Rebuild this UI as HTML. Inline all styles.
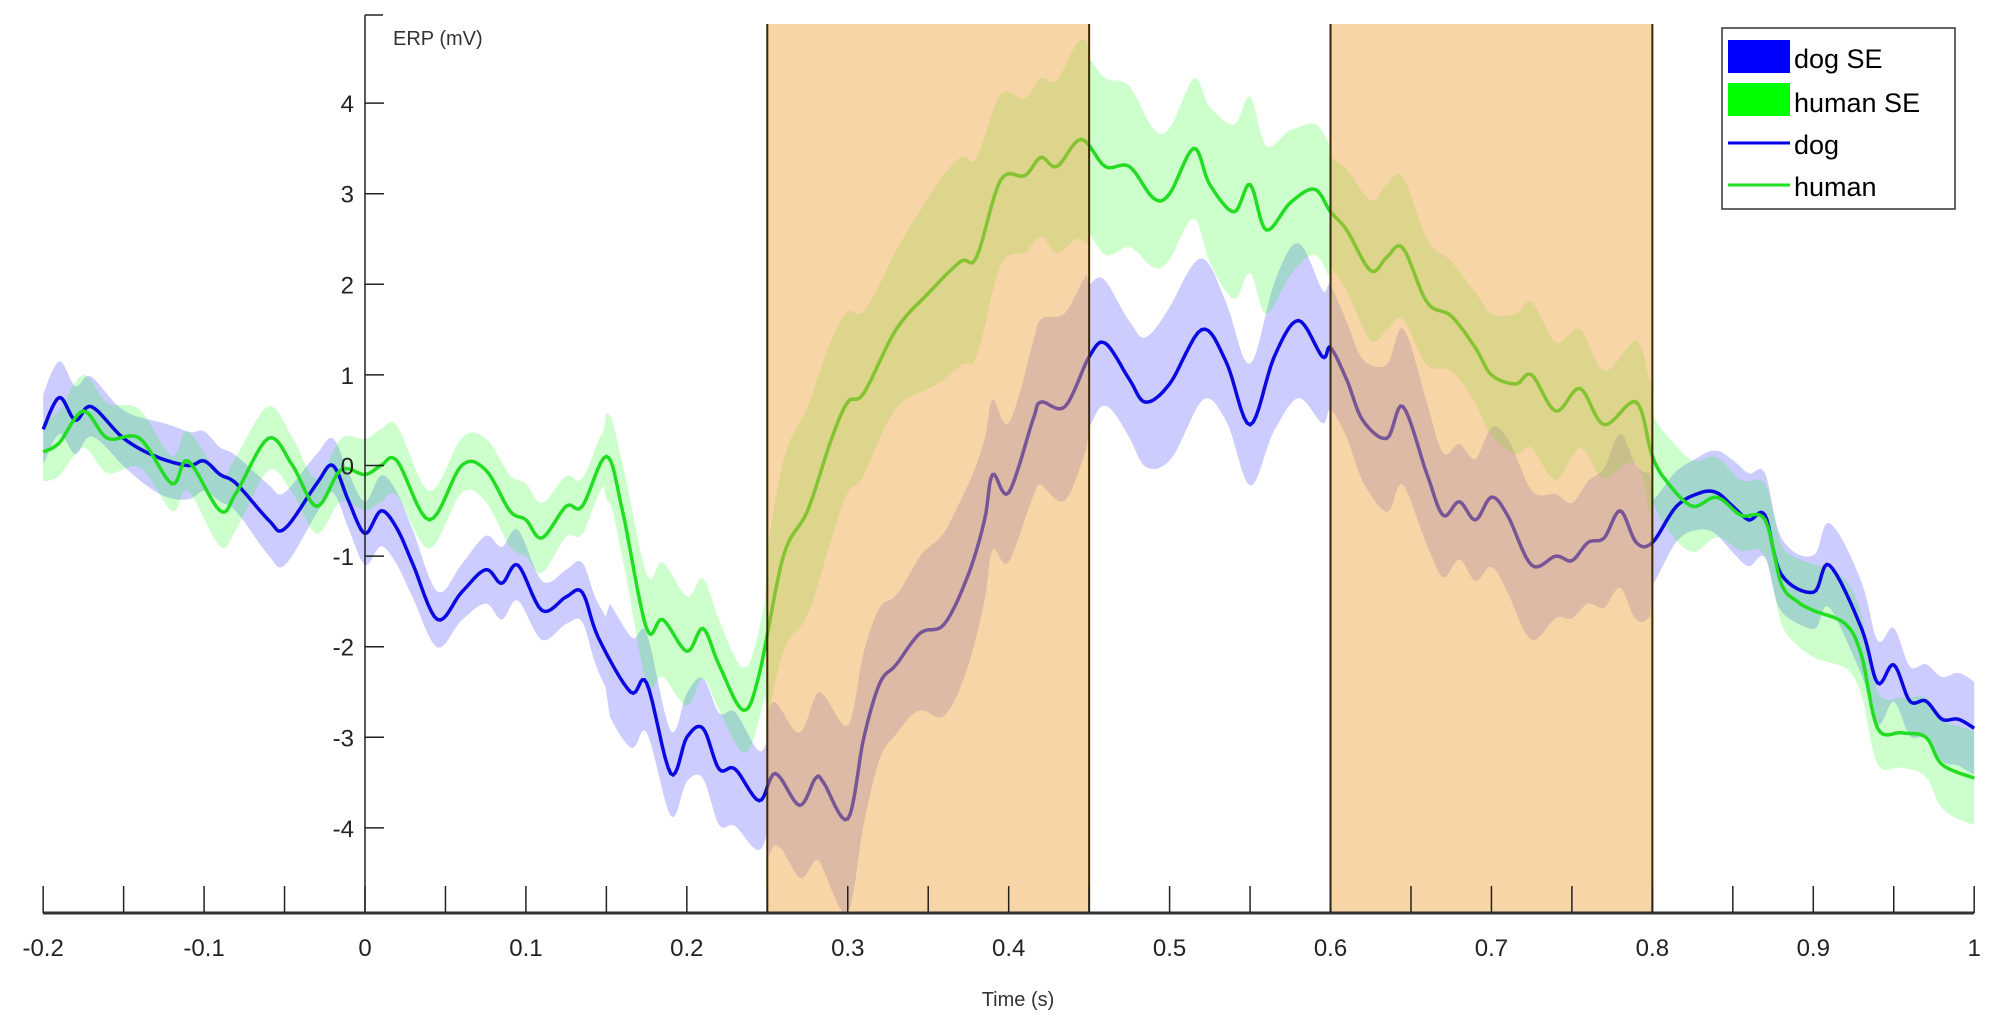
<!DOCTYPE html>
<html><head><meta charset="utf-8"><style>
html,body{margin:0;padding:0;background:#fff;}
svg{display:block;font-family:"Liberation Sans",Arial,sans-serif;}
</style></head><body>
<svg id="s" width="1994" height="1022" viewBox="0 0 1994 1022" xmlns="http://www.w3.org/2000/svg">
<g id="bands"></g>
<g id="lines"></g>
<g id="shade"></g>
<g id="axes"></g>
<g id="legend">
<rect x="1722" y="28" width="233" height="181" fill="#fff" stroke="#333" stroke-width="1.5"/>
<rect x="1728" y="40" width="62" height="33" fill="#0000ff"/>
<rect x="1728" y="83" width="62" height="33" fill="#00ff00"/>
<line x1="1728" y1="143" x2="1790" y2="143" stroke="#0000e6" stroke-width="3"/>
<line x1="1728" y1="185" x2="1790" y2="185" stroke="#22e022" stroke-width="3"/>
<text x="1794" y="68" font-size="27">dog SE</text>
<text x="1794" y="112" font-size="27">human SE</text>
<text x="1794" y="154" font-size="27">dog</text>
<text x="1794" y="196" font-size="27">human</text>
</g>
</svg>
<script>
const NS="http://www.w3.org/2000/svg";
const X=t=>365+t*1609.2, Y=v=>465.5-v*90.6;
const dog=[[-0.2,0.4],[-0.19,0.75],[-0.18,0.5],[-0.17,0.65],[-0.15,0.3],[-0.13,0.1],[-0.11,0.0],[-0.10,0.05],[-0.09,-0.1],[-0.08,-0.2],[-0.06,-0.6],[-0.05,-0.7],[-0.03,-0.2],[-0.02,0.0],[-0.01,-0.4],[0,-0.75],[0.01,-0.5],[0.02,-0.7],[0.03,-1.1],[0.045,-1.7],[0.06,-1.4],[0.075,-1.15],[0.085,-1.3],[0.095,-1.1],[0.11,-1.6],[0.125,-1.45],[0.135,-1.4],[0.145,-1.9],[0.165,-2.5],[0.175,-2.4],[0.19,-3.4],[0.2,-3.0],[0.21,-2.9],[0.22,-3.35],[0.23,-3.35],[0.245,-3.7],[0.255,-3.4],[0.27,-3.75],[0.28,-3.45],[0.285,-3.5],[0.3,-3.9],[0.31,-3.0],[0.32,-2.4],[0.33,-2.2],[0.345,-1.85],[0.36,-1.75],[0.375,-1.2],[0.385,-0.6],[0.39,-0.1],[0.4,-0.3],[0.415,0.5],[0.42,0.7],[0.435,0.65],[0.45,1.2],[0.46,1.35],[0.475,0.95],[0.485,0.7],[0.5,0.9],[0.52,1.5],[0.535,1.15],[0.55,0.45],[0.565,1.2],[0.58,1.6],[0.595,1.2],[0.6,1.3],[0.61,0.95],[0.62,0.5],[0.635,0.3],[0.645,0.65],[0.66,-0.1],[0.67,-0.55],[0.68,-0.4],[0.69,-0.6],[0.7,-0.35],[0.71,-0.55],[0.725,-1.1],[0.74,-1.0],[0.75,-1.05],[0.76,-0.85],[0.77,-0.8],[0.78,-0.5],[0.79,-0.85],[0.8,-0.85],[0.815,-0.45],[0.83,-0.3],[0.84,-0.3],[0.85,-0.45],[0.86,-0.6],[0.87,-0.55],[0.88,-1.2],[0.9,-1.4],[0.91,-1.1],[0.93,-1.8],[0.94,-2.4],[0.95,-2.2],[0.96,-2.6],[0.97,-2.6],[0.98,-2.8],[0.99,-2.8],[1.0,-2.9]];
const hum=[[-0.2,0.15],[-0.19,0.25],[-0.175,0.6],[-0.16,0.3],[-0.14,0.3],[-0.12,-0.2],[-0.11,0.05],[-0.09,-0.5],[-0.08,-0.3],[-0.06,0.3],[-0.045,0.0],[-0.03,-0.45],[-0.015,-0.05],[0,-0.1],[0.01,0.0],[0.02,0.05],[0.04,-0.6],[0.06,0.0],[0.075,-0.05],[0.09,-0.5],[0.1,-0.6],[0.11,-0.8],[0.125,-0.45],[0.135,-0.45],[0.15,0.1],[0.16,-0.5],[0.175,-1.8],[0.185,-1.7],[0.2,-2.05],[0.21,-1.8],[0.22,-2.2],[0.235,-2.7],[0.245,-2.3],[0.26,-1.0],[0.275,-0.5],[0.29,0.3],[0.3,0.7],[0.31,0.8],[0.33,1.5],[0.35,1.9],[0.37,2.25],[0.38,2.3],[0.395,3.15],[0.41,3.2],[0.42,3.4],[0.43,3.3],[0.445,3.6],[0.46,3.3],[0.475,3.3],[0.49,2.95],[0.5,3.0],[0.515,3.5],[0.525,3.1],[0.54,2.8],[0.55,3.1],[0.56,2.6],[0.575,2.9],[0.59,3.05],[0.6,2.8],[0.61,2.6],[0.625,2.15],[0.635,2.3],[0.645,2.4],[0.66,1.8],[0.675,1.65],[0.69,1.3],[0.7,1.0],[0.715,0.9],[0.725,1.0],[0.74,0.6],[0.755,0.85],[0.77,0.45],[0.79,0.7],[0.8,0.1],[0.81,-0.2],[0.825,-0.45],[0.84,-0.35],[0.855,-0.55],[0.87,-0.6],[0.88,-1.3],[0.89,-1.5],[0.9,-1.6],[0.92,-1.75],[0.93,-2.1],[0.94,-2.9],[0.955,-2.95],[0.97,-3.0],[0.98,-3.3],[1.0,-3.45]];
function interp(d){const out=[];for(let i=0;i<d.length-1;i++){const p0=d[Math.max(0,i-1)],p1=d[i],p2=d[i+1],p3=d[Math.min(d.length-1,i+2)];
for(let k=0;k<8;k++){const s=k/8,s2=s*s,s3=s2*s;const f=(a,b,c,e)=>0.5*(2*b+(-a+c)*s+(2*a-5*b+4*c-e)*s2+(-a+3*b-3*c+e)*s3);out.push([f(p0[0],p1[0],p2[0],p3[0]),f(p0[1],p1[1],p2[1],p3[1])]);}}
out.push(d[d.length-1]);return out;}
function hwDog(t){let w=t<0.15?0.35:t<0.25?0.55:t<0.45?0.9:t<0.8?0.75:0.45;return w*(1+0.15*Math.sin(t*90));}
function hwHum(t){let w=t<0.15?0.35:t<0.25?0.55:t<0.45?1.0:t<0.6?0.85:t<0.8?0.7:0.45;return w*(1+0.15*Math.sin(t*70+1));}
function draw(d,hw,fill,stroke){const p=interp(d);
let up=p.map(q=>[X(q[0]),Y(q[1]+hw(q[0]))]),dn=p.map(q=>[X(q[0]),Y(q[1]-hw(q[0]))]).reverse();
const b=document.createElementNS(NS,"path");b.setAttribute("d","M"+up.concat(dn).map(q=>q[0].toFixed(1)+","+q[1].toFixed(1)).join("L")+"Z");b.setAttribute("fill",fill);document.getElementById("bands").appendChild(b);
const l=document.createElementNS(NS,"path");l.setAttribute("d","M"+p.map(q=>X(q[0]).toFixed(1)+","+Y(q[1]).toFixed(1)).join("L"));l.setAttribute("fill","none");l.setAttribute("stroke",stroke);l.setAttribute("stroke-width","3.5");document.getElementById("lines").appendChild(l);}
draw(dog,hwDog,"rgba(0,0,255,0.2)","#0a0ae0");
draw(hum,hwHum,"rgba(0,255,0,0.2)","#22dd22");
let sh="";
[[0.25,0.45],[0.6,0.8]].forEach(([a,b])=>{sh+=`<rect x="${X(a)}" y="24" width="${X(b)-X(a)}" height="889" fill="rgba(240,168,70,0.48)"/><line x1="${X(a)}" y1="24" x2="${X(a)}" y2="913" stroke="#3a2800" stroke-width="2"/><line x1="${X(b)}" y1="24" x2="${X(b)}" y2="913" stroke="#3a2800" stroke-width="2"/>`;});
document.getElementById("shade").innerHTML=sh;
let ax=`<line x1="43" y1="913" x2="1974" y2="913" stroke="#333" stroke-width="3"/><line x1="365" y1="15" x2="365" y2="913" stroke="#222" stroke-width="1.5"/><line x1="365" y1="15" x2="383" y2="15" stroke="#222" stroke-width="1.5"/>`;
for(let i=0;i<=24;i++){const t=-0.2+i*0.05,x=X(t);ax+=`<line x1="${x}" y1="886" x2="${x}" y2="913" stroke="#222" stroke-width="1.5"/>`;
if(i%2==0){let lab=(Math.round(t*10)/10).toString();ax+=`<text x="${x}" y="956" font-size="24" text-anchor="middle" fill="#222">${lab}</text>`;}}
for(let v=-4;v<=4;v++){const y=Y(v);ax+=`<line x1="365" y1="${y}" x2="384" y2="${y}" stroke="#222" stroke-width="1.5"/>`;ax+=`<text x="354" y="${y+9}" font-size="24" text-anchor="end" fill="#222">${v}</text>`;}
ax+=`<text x="393" y="45" font-size="20" fill="#333">ERP (mV)</text><text x="1018" y="1006" font-size="20" text-anchor="middle" fill="#333">Time (s)</text>`;
document.getElementById("axes").innerHTML=ax;
</script>
</body></html>
